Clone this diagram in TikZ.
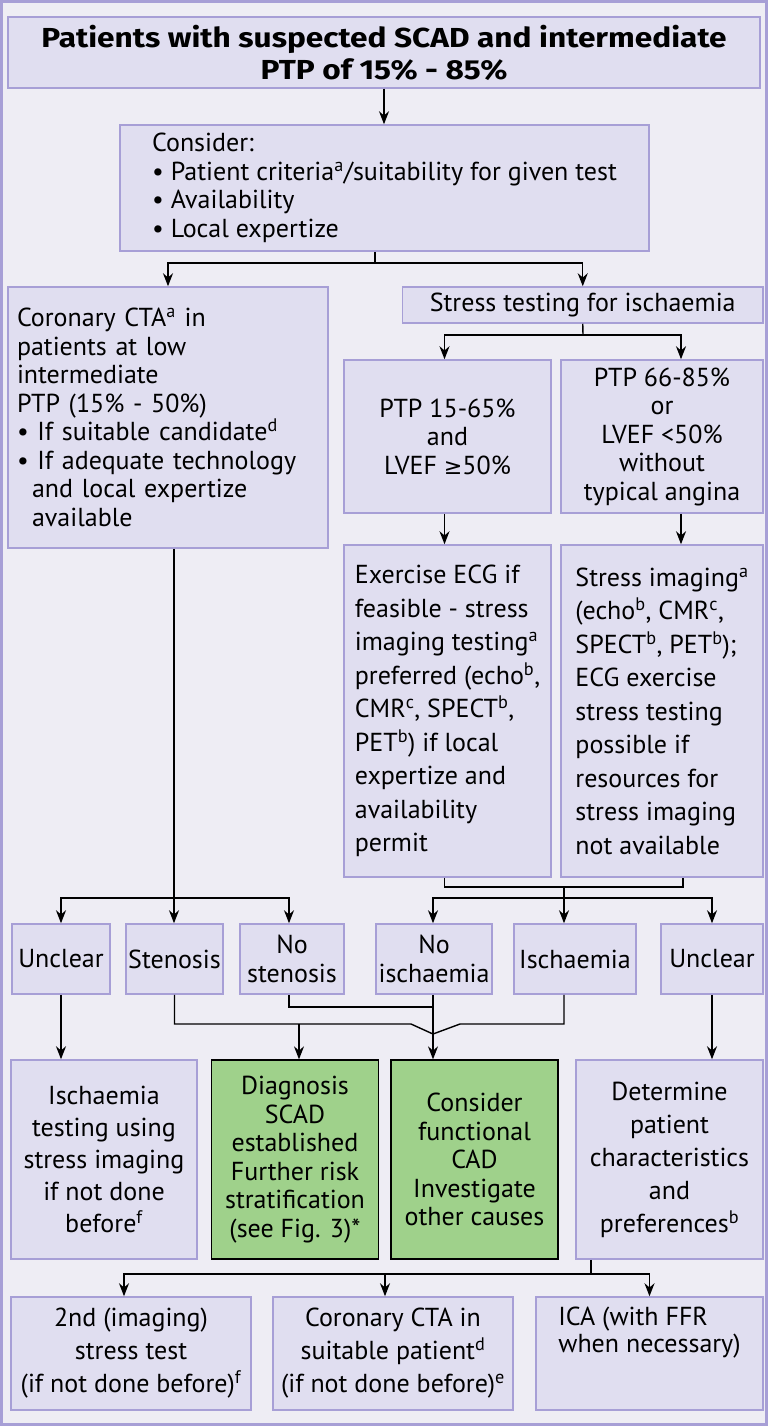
\documentclass[tikz,border=0pt]{standalone}
\usepackage{fontspec}
\setmainfont{PT Sans}
\newfontfamily\titlefont[FakeStretch=1.15]{Fira Sans}
\newfontfamily\symfont[Scale=0.85]{DejaVu Sans}
\usetikzlibrary{arrows.meta}
\definecolor{pagebg}{HTML}{EEEDF4}
\definecolor{boxfill}{HTML}{E0DEF0}
\definecolor{boxline}{HTML}{A79FD6}
\definecolor{cadgreen}{HTML}{9FD18B}
\newcommand{\sups}[1]{\textsuperscript{#1}}
\begin{document}
\begin{tikzpicture}[x=1pt,y=-1pt,>={Stealth[length=13pt,width=10pt]},
	pbox/.style={draw=boxline,fill=boxfill,line width=1.5pt,inner sep=0pt,align=center,font=\fontsize{26}{28.5}\selectfont},
	gbox/.style={pbox,draw=black,fill=cadgreen,line width=1.3pt},
	sz/.style 2 args={minimum width=#1pt,minimum height=#2pt},
	link/.style={line width=1.4pt}]
		\fill[pagebg] (0,0) rectangle (768,1426);
		\draw[boxline,line width=3pt] (1.5,1.5) rectangle (766.5,1424.5);
		\node[pbox,sz={752}{71},font=\titlefont\bfseries\fontsize{27.5}{32}\selectfont] (title) at (384,52.5) {Patients with suspected SCAD and intermediate\\PTP of 15\% - 85\%};
		\node[pbox,sz={529}{126},align=left] (consider) at (384.5,188) {Consider:\\\textbullet\ Patient criteria\sups{a}/suitability for given test\\\textbullet\ Availability\\\textbullet\ Local expertize};
		\node[pbox,sz={320}{261},align=left,text width=302pt] (cta) at (168,417.5) {Coronary CTA\sups{a} in\\patients at low\\intermediate\\PTP (15\% - 50\%)\\\textbullet\ If suitable candidate\sups{d}\\\textbullet\ If adequate technology\\\hspace*{15pt}and local expertize\\\hspace*{15pt}available};
		\node[pbox,sz={360.5}{36}] (stress) at (582.75,305) {Stress testing for ischaemia};
		\node[pbox,sz={207}{153}] (ptpA) at (447.5,436.5) {PTP 15-65\%\\and\\LVEF {\symfont ≥}50\%};
		\node[pbox,sz={202}{153}] (ptpB) at (662,436.5) {PTP 66-85\%\\or\\LVEF <50\%\\without\\typical angina};
		\node[pbox,sz={207}{332},align=left,font=\fontsize{26}{33.5}\selectfont] (exercise) at (447.5,711) {Exercise ECG if\\feasible - stress\\imaging testing\sups{a}\\preferred (echo\sups{b},\\CMR\sups{c}, SPECT\sups{b},\\PET\sups{b}) if local\\expertize and\\availability\\permit};
		\node[pbox,sz={202}{332},align=left,font=\fontsize{26}{33.5}\selectfont] (imaging) at (662,711) {Stress imaging\sups{a}\\(echo\sups{b}, CMR\sups{c},\\SPECT\sups{b}, PET\sups{b});\\ECG exercise\\stress testing\\possible if\\resources for\\stress imaging\\not available};
		\node[pbox,sz={98}{70}] (unclearL) at (61,959) {Unclear};
		\node[pbox,sz={97}{70}] (stenosis) at (174.5,959) {Stenosis};
		\node[pbox,sz={104}{70}] (nosten) at (292,959) {No\\stenosis};
		\node[pbox,sz={116}{70}] (noisch) at (434,959) {No\\ischaemia};
		\node[pbox,sz={122}{70}] (isch) at (575,959) {Ischaemia};
		\node[pbox,sz={102}{70}] (unclearR) at (712,959) {Unclear};
		\node[pbox,sz={186}{199},font=\fontsize{26}{32}\selectfont] (ischtest) at (104,1159.5) {Ischaemia\\testing using\\stress imaging\\if not done\\before\sups{f}};
		\node[gbox,sz={167}{199}] (diag) at (295,1159.5) {Diagnosis\\SCAD\\established\\Further risk\\stratification\\(see Fig. 3)*};
		\node[gbox,sz={167}{199}] (funct) at (474.5,1159.5) {Consider\\functional\\CAD\\Investigate\\other causes};
		\node[pbox,sz={187}{199},font=\fontsize{26}{33}\selectfont] (determine) at (669.5,1159.5) {Determine\\patient\\characteristics\\and\\preferences\sups{b}};
		\node[pbox,sz={240}{113},font=\fontsize{26}{33}\selectfont] (second) at (131,1353.5) {2nd (imaging)\\stress test\\(if not done before)\sups{f}};
		\node[pbox,sz={240}{113},font=\fontsize{26}{33}\selectfont] (cta2) at (393,1353.5) {Coronary CTA in\\suitable patient\sups{d}\\(if not done before)\sups{e}};
		\node[pbox,sz={227}{113},align=left,font=\fontsize{26}{27}\selectfont] (ica) at (649.5,1353.5) {ICA (with FFR\\when necessary)\\[12pt]\strut};
		\coordinate (s1) at (375,263);
		\coordinate (s2) at (583,335);
		\coordinate (b3) at (564,887);
		\coordinate (s3) at (564,898);
		\coordinate (s4) at (174,898);
		\coordinate (k1) at (411,1024);
		\coordinate (k2) at (460,1024);
		\coordinate (k3) at (433,1007);
		\coordinate (k4) at (299,1024);
		\coordinate (m1) at (433,1034);
		\coordinate (s5) at (591,1274);
		\draw[link,->] (title.south) -- (title.south |- consider.north);
		\draw[link] (consider.south -| s1) -- (s1);
		\draw[link,->] (s1) -| (cta.north);
		\draw[link,->] (s1) -| (stress.north);
		\draw[link] (stress.south) -- (s2);
		\draw[link,->] (s2) -| ([xshift=-3pt]ptpA.north);
		\draw[link,->] (s2) -| ([xshift=19pt]ptpB.north);
		\draw[link,->] ([xshift=-3pt]ptpA.south) -- ([xshift=-3pt]exercise.north);
		\draw[link,->] ([xshift=19pt]ptpB.south) -- ([xshift=19pt]imaging.north);
		\draw[link] ([xshift=-3pt]exercise.south) |- (b3) -| ([xshift=21pt]imaging.south);
		\draw[link] (b3) -- (s3);
		\draw[link,->] (s3) -| ([xshift=-1pt]noisch.north);
		\draw[link,->] (s3) -- (s3 |- isch.north);
		\draw[link,->] (s3) -| (unclearR.north);
		\draw[link] ([xshift=6pt]cta.south) -- (s4);
		\draw[link,->] (s4) -| (unclearL.north);
		\draw[link,->] (s4) -- (s4 |- stenosis.north);
		\draw[link,->] (s4) -| ([xshift=-3pt]nosten.north);
		\draw[link,->] (unclearL.south) -- (unclearL.south |- ischtest.north);
		\draw[link] (stenosis.south) |- (k1) -- (m1);
		\draw[link] ([xshift=-11pt]isch.south) |- (k2) -- (m1);
		\draw[link] ([xshift=-3pt]nosten.south) |- (k3);
		\draw[link,->] ([xshift=-1pt]noisch.south) -- ([xshift=-1pt]noisch.south |- funct.north);
		\draw[link,->] (k4) -- (k4 |- diag.north);
		\draw[link,->] (unclearR.south) -- (unclearR.south |- determine.north);
		\draw[link] (s5 |- determine.south) -- (s5);
		\draw[link,->] (s5) -| ([xshift=-7pt]second.north);
		\draw[link,->] (s5) -| ([xshift=-8pt]cta2.north);
		\draw[link,->] (s5) -| (ica.north);
\end{tikzpicture}
\end{document}
